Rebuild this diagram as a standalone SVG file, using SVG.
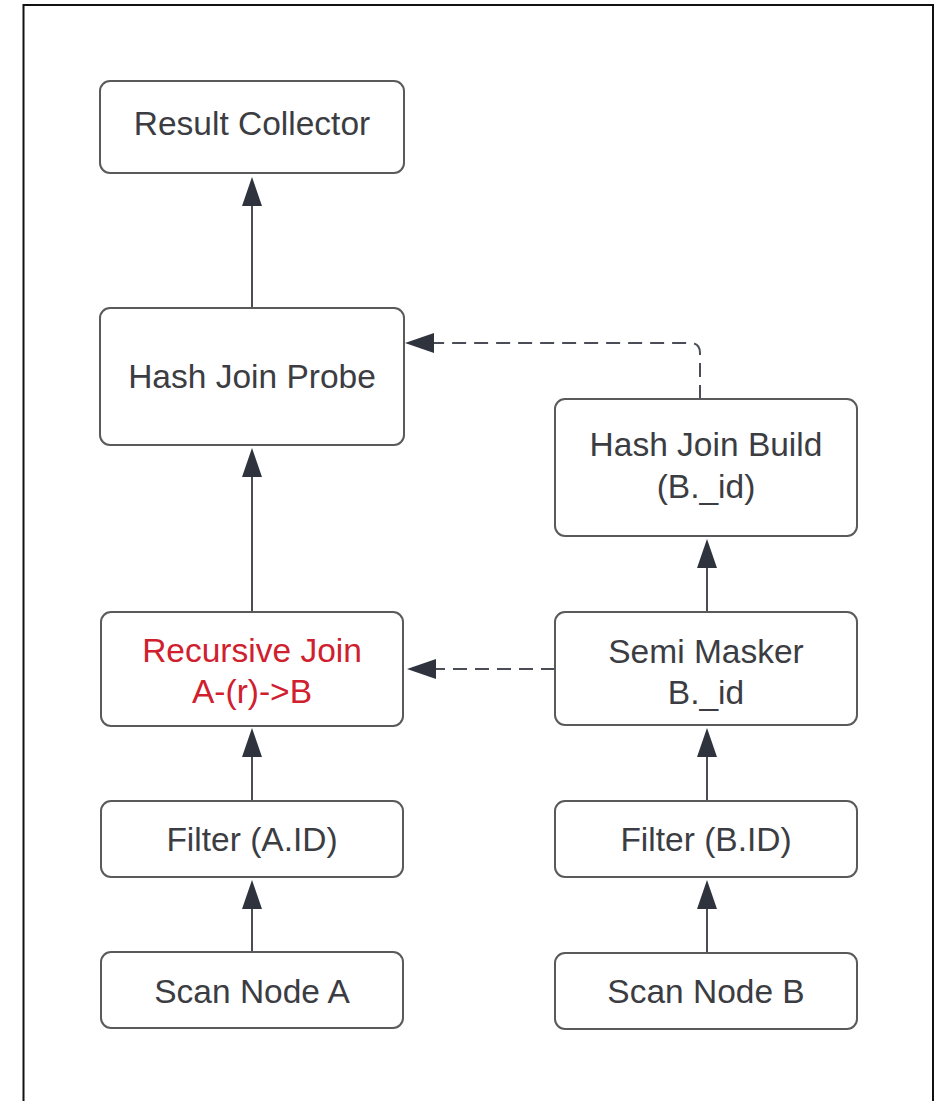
<svg xmlns="http://www.w3.org/2000/svg" width="945" height="1101" viewBox="0 0 945 1101">
  <style>
    .box { fill: #ffffff; stroke: #5a5a5a; stroke-width: 2; }
    .label { font-family: "Liberation Sans", Arial, sans-serif; font-size: 33.5px; fill: #3b3d42; text-anchor: middle; }
    .label.hot { fill: #d0202e; }
    .edge { fill: none; stroke: #4a4d55; stroke-width: 2; }
    .edge.dashed { stroke-dasharray: 14 8; }
  </style>
  <defs>
    <marker id="arrow" viewBox="0 0 29 20" refX="0" refY="10" markerWidth="29" markerHeight="20" markerUnits="userSpaceOnUse" orient="auto">
      <path d="M0,0 L29,10 L0,20 Z" fill="#2e333d"/>
    </marker>
  </defs>

  <!-- outer frame -->
  <rect x="23.5" y="5" width="909.5" height="1110" fill="#ffffff" stroke="#111111" stroke-width="2"/>

  <!-- connectors -->
  <g id="connectors">
    <path class="edge" d="M252,308 V206" marker-end="url(#arrow)"/>
    <path class="edge" d="M252,612 V477" marker-end="url(#arrow)"/>
    <path class="edge" d="M252,801 V757" marker-end="url(#arrow)"/>
    <path class="edge" d="M252,952 V909" marker-end="url(#arrow)"/>
    <path class="edge" d="M707,612 V568" marker-end="url(#arrow)"/>
    <path class="edge" d="M707,801 V757" marker-end="url(#arrow)"/>
    <path class="edge" d="M707,953 V909" marker-end="url(#arrow)"/>
    <path class="edge dashed" d="M700,399 V353 Q700,343 690,343 H434" marker-end="url(#arrow)"/>
    <path class="edge dashed" d="M555,669 H436" marker-end="url(#arrow)"/>
  </g>

  <g id="result-collector">
    <rect class="box" x="100" y="81" width="304" height="92" rx="10"/>
    <text class="label" x="252" y="135">Result Collector</text>
  </g>

  <g id="hash-join-probe">
    <rect class="box" x="100" y="308" width="304" height="137" rx="10"/>
    <text class="label" x="252" y="388">Hash Join Probe</text>
  </g>

  <g id="hash-join-build">
    <rect class="box" x="555" y="399" width="302" height="137" rx="10"/>
    <text class="label" x="706" y="456">Hash Join Build</text>
    <text class="label" x="706" y="498">(B._id)</text>
  </g>

  <g id="recursive-join">
    <rect class="box" x="101" y="612" width="302" height="114" rx="10"/>
    <text class="label hot" x="252" y="662">Recursive Join</text>
    <text class="label hot" x="252" y="703">A-(r)-&gt;B</text>
  </g>

  <g id="semi-masker">
    <rect class="box" x="555" y="612" width="302" height="113" rx="10"/>
    <text class="label" x="706" y="663">Semi Masker</text>
    <text class="label" x="706" y="704">B._id</text>
  </g>

  <g id="filter-a">
    <rect class="box" x="101" y="801" width="302" height="76" rx="10"/>
    <text class="label" x="252" y="851">Filter (A.ID)</text>
  </g>

  <g id="filter-b">
    <rect class="box" x="555" y="801" width="302" height="76" rx="10"/>
    <text class="label" x="706" y="851">Filter (B.ID)</text>
  </g>

  <g id="scan-a">
    <rect class="box" x="101" y="952" width="302" height="76" rx="10"/>
    <text class="label" x="252" y="1003">Scan Node A</text>
  </g>

  <g id="scan-b">
    <rect class="box" x="555" y="953" width="302" height="76" rx="10"/>
    <text class="label" x="706" y="1003">Scan Node B</text>
  </g>
</svg>
